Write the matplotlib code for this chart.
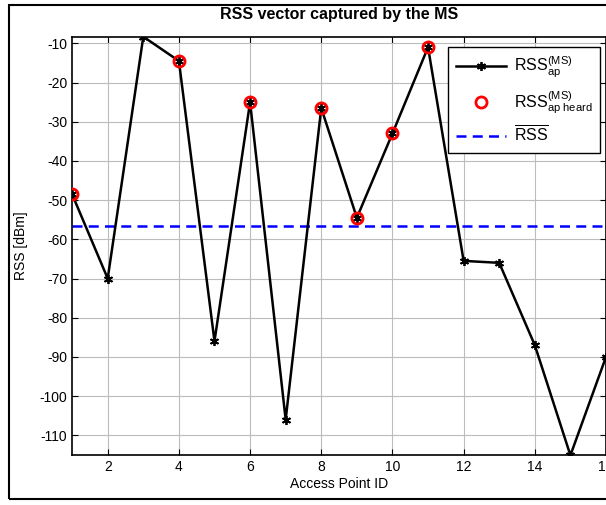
import numpy as np
import matplotlib
matplotlib.use('Agg')
import matplotlib.pyplot as plt
from matplotlib.patches import Rectangle

plt.rcParams['font.family'] = ['Liberation Sans', 'DejaVu Sans']
plt.rcParams['mathtext.fontset'] = 'custom'
plt.rcParams['mathtext.rm'] = 'Liberation Sans'
plt.rcParams['mathtext.it'] = 'Liberation Sans'
plt.rcParams['axes.unicode_minus'] = False

# RSS values per access point
ap_id = [1, 2, 3, 4, 5, 6, 7, 8, 9, 10, 11, 12, 13, 14, 15, 16]
rss = [-48.5, -70, -8.3, -14.5, -86, -25, -106, -26.5, -54.5, -33, -11,
       -65.5, -66, -87, -115.1, -90]
heard_id = [1, 4, 6, 8, 9, 10, 11]
heard_rss = [-48.5, -14.5, -25, -26.5, -54.5, -33, -11]
rss_mean = -56.5

fig = plt.figure(figsize=(6.06, 5.05), dpi=100)
ax = fig.add_axes([0.119, 0.0984, 0.881, 0.829])

# outer frame of the figure
fig.patches.append(Rectangle((0.0149, 0.0119), 1.2, 0.978, transform=fig.transFigure,
                             fill=False, edgecolor='black', linewidth=1.5))

ax.plot(ap_id, rss, 'k-', marker=(6, 2, 0), markersize=6.5, markeredgewidth=1.3,
        linewidth=1.8, label=r'RSS$^{(\mathrm{MS})}_{\mathrm{ap}}$', zorder=3)
ax.plot(heard_id, heard_rss, 'o', markerfacecolor='none', markeredgecolor='red',
        markersize=8, markeredgewidth=2, linestyle='none',
        label=r'RSS$^{(\mathrm{MS})}_{\mathrm{ap\ heard}}$', zorder=4)
ax.axhline(rss_mean, color='blue', linestyle='--', linewidth=1.8,
           dashes=(4, 2.5), label=r'$\overline{\mathrm{RSS}}$', zorder=2)

ax.set_xlim(1, 16)
ax.set_ylim(-115.1, -8.3)
ax.set_xticks(np.arange(2, 17, 2))
ax.set_yticks(np.arange(-110, -9, 10))
ax.grid(True, color='#bcbcbc', linewidth=0.8)
ax.tick_params(direction='in', top=True, right=True, length=4, labelsize=10)
for s in ax.spines.values():
    s.set_linewidth(1.2)

ax.set_title('RSS vector captured by the MS', fontsize=11.5, fontweight='bold', pad=13)
ax.set_xlabel('Access Point ID', fontsize=10, labelpad=2)
ax.set_ylabel('RSS [dBm]', fontsize=10, labelpad=8)

leg = ax.legend(loc='upper right', bbox_to_anchor=(0.989, 0.975), borderaxespad=0,
                fontsize=11.5, fancybox=False, framealpha=1, edgecolor='black',
                handlelength=3.1, handletextpad=0.5, borderpad=0.5, labelspacing=0.55)
leg.get_frame().set_linewidth(1.0)

fig.savefig('out.png', dpi=100)
